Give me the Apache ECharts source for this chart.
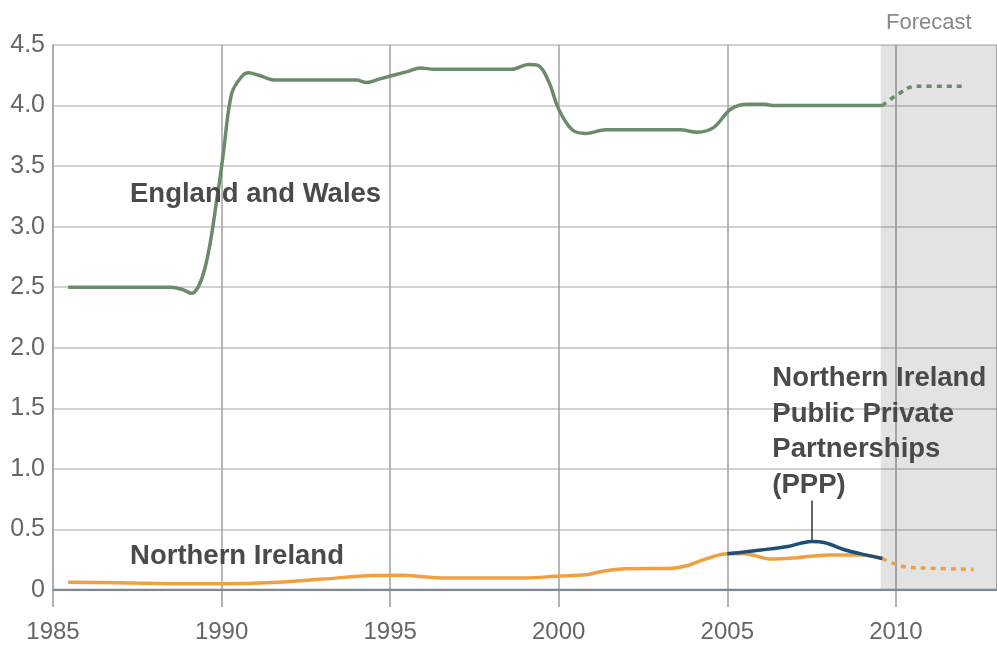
<!DOCTYPE html>
<html>
<head>
<meta charset="utf-8">
<script src="https://cdn.jsdelivr.net/npm/echarts@6/dist/echarts.min.js"></script>
<style>html,body{margin:0;padding:0;background:#fff;}#c{width:997px;height:649px;}</style>
</head>
<body>
<div id="c"></div>
<script>
var yTicks = [0, 0.5, 1.0, 1.5, 2.0, 2.5, 3.0, 3.5, 4.0, 4.5];
var xTicks = [1985, 1990, 1995, 2000, 2005, 2010];

var englandWales = [[1985.45,2.5],[1988.5,2.5],[1988.85,2.48],[1989.1,2.45],[1989.5,2.65],[1989.9,3.3],[1990.05,3.6],[1990.3,4.1],[1990.6,4.24],[1990.8,4.27],[1991.1,4.25],[1991.6,4.21],[1994.0,4.21],[1994.3,4.19],[1994.7,4.22],[1995.5,4.28],[1995.9,4.31],[1996.3,4.3],[1998.6,4.3],[1999.1,4.34],[1999.4,4.33],[1999.7,4.2],[2000.0,3.97],[2000.4,3.8],[2000.8,3.77],[2001.4,3.8],[2003.6,3.8],[2004.1,3.78],[2004.6,3.82],[2005.1,3.97],[2005.6,4.01],[2006.1,4.01],[2006.4,4.0],[2009.6,4.0]];
var englandWalesForecast = [[2009.6,4.0],[2010.1,4.1],[2010.6,4.16],[2012.1,4.16]];

var northernIreland = [[1985.45,0.065],[1987,0.06],[1989,0.052],[1990,0.052],[1991.5,0.062],[1993,0.09],[1994.5,0.12],[1995.3,0.122],[1996.5,0.1],[1999,0.1],[2000,0.115],[2000.8,0.125],[2001.3,0.155],[2002,0.175],[2003.3,0.178],[2003.8,0.2],[2004.4,0.26],[2005,0.3],[2005.5,0.3],[2006.3,0.255],[2007,0.265],[2008,0.29],[2009,0.29],[2009.6,0.26]];
var northernIrelandForecast = [[2009.6,0.26],[2010.3,0.19],[2011,0.18],[2012.3,0.17]];

var niPPP = [[2005.0,0.3],[2005.4,0.31],[2006,0.33],[2006.8,0.36],[2007.5,0.4],[2007.9,0.39],[2008.5,0.33],[2009.1,0.29],[2009.6,0.26]];

var forecastStart = 2009.55;
var pppPointer = [[2007.5,0.41],[2007.5,0.74]];

var labelFont = '"Liberation Sans", Arial, Helvetica, sans-serif';
var annStyle = {color:'#4a4a4a', fontWeight:'bold', fontSize:27.5, fontFamily:labelFont};

function annotation(coord, text, extra){
  var lab = Object.assign({show:true, position:'right', distance:0, formatter:text}, annStyle, extra||{});
  return {coord:coord, symbol:'circle', symbolSize:1, itemStyle:{color:'rgba(0,0,0,0)'}, label:lab};
}

var chart = echarts.init(document.getElementById('c'), null, {renderer:'canvas'});
chart.setOption({
  animation:false,
  backgroundColor:'#fff',
  grid:{left:53, right:0, top:45, bottom:59, containLabel:false},
  xAxis:{
    type:'value', min:1985, max:2013, interval:5,
    axisLine:{show:false},
    axisTick:{show:true, length:17, lineStyle:{color:'#9a9a9a', width:1.5}},
    axisLabel:{show:true, margin:30, fontSize:24, color:'#666', fontFamily:labelFont, showMaxLabel:false,
      formatter:function(v){ return xTicks.indexOf(v) >= 0 ? String(v) : ''; }},
    splitLine:{show:true, lineStyle:{color:'#a0a0a0', width:1.5}}
  },
  yAxis:{
    type:'value', min:0, max:4.5, interval:0.5,
    axisLine:{show:true, lineStyle:{color:'#a8a8a8', width:1.5}},
    axisTick:{show:false},
    axisLabel:{margin:8, fontSize:25, color:'#666', fontFamily:labelFont,
      formatter:function(v){ var t = yTicks.filter(function(k){return Math.abs(k-v)<1e-9;}); if(!t.length) return ''; return v===0 ? '0' : v.toFixed(1); }},
    splitLine:{show:true, lineStyle:{color:'#d2d2d2', width:2}}
  },
  series:[
    {
      name:'axis0', type:'line', data:[[1985,0],[2013,0]], symbol:'none', silent:true,
      lineStyle:{color:'#7d8894', width:2.5}, z:3
    },
    {
      name:'England and Wales forecast', type:'line', data:englandWalesForecast, symbol:'none', smooth:0.4,
      lineStyle:{color:'#6a8c6a', width:3.5, type:[5,5]},
      markArea:{silent:true, itemStyle:{color:'rgba(0,0,0,0.11)'},
        label:{show:true, position:'top', distance:11, offset:[-10,0], formatter:'Forecast', color:'#888', fontSize:22, fontFamily:labelFont},
        data:[[{xAxis:forecastStart, yAxis:0},{xAxis:2013, yAxis:4.5}]]}
    },
    {
      name:'England and Wales', type:'line', data:englandWales, symbol:'none', smooth:0.35,
      lineStyle:{color:'#6a8c6a', width:3.5},
      markPoint:{silent:true, data:[annotation([1987.27,3.27],'England and Wales')]}
    },
    {
      name:'Northern Ireland forecast', type:'line', data:northernIrelandForecast, symbol:'none', smooth:0.4,
      lineStyle:{color:'#f0a040', width:3.5, type:[5,5]}
    },
    {
      name:'Northern Ireland', type:'line', data:northernIreland, symbol:'none', smooth:0.35,
      lineStyle:{color:'#f0a040', width:3.5}, z:4,
      markPoint:{silent:true, data:[annotation([1987.27,0.28],'Northern Ireland')]}
    },
    {
      name:'Northern Ireland PPP', type:'line', data:niPPP, symbol:'none', smooth:0.35,
      lineStyle:{color:'#1f4e79', width:3.5}, z:5,
      markLine:{silent:true, symbol:'none', label:{show:false}, lineStyle:{color:'#333', width:1.5, type:'solid'},
        data:[[{coord:pppPointer[0]},{coord:pppPointer[1]}]]},
      markPoint:{silent:true, data:[annotation([2006.32,1.305],'Northern Ireland\nPublic Private\nPartnerships\n(PPP)',{lineHeight:35.5, align:'left'})]}
    }
  ]
});
</script>
</body>
</html>
